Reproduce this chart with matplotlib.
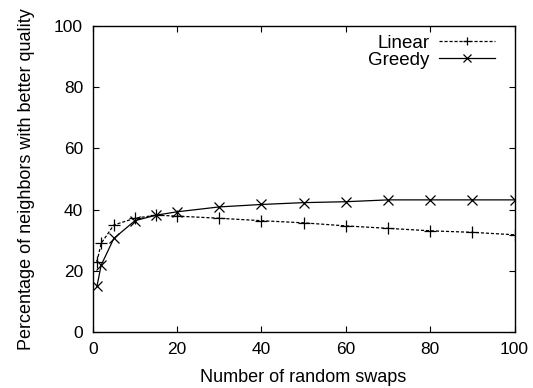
import matplotlib
matplotlib.use('Agg')
from matplotlib import pyplot as plt

matplotlib.rcParams['font.family'] = 'Liberation Sans'

swaps = [1, 2, 5, 10, 15, 20, 30, 40, 50, 60, 70, 80, 90, 100]
linear = [23.0, 29.0, 35.0, 37.2, 38.2, 37.9, 37.2, 36.4, 35.7, 34.7, 33.9, 33.1, 32.6, 31.8]
greedy = [15.0, 21.9, 30.6, 36.4, 38.2, 39.3, 40.9, 41.7, 42.3, 42.6, 43.2, 43.2, 43.2, 43.2]

x_ticks = [0, 20, 40, 60, 80, 100]
y_ticks = [0, 20, 40, 60, 80, 100]

fig = plt.figure(figsize=(5.33, 3.88), dpi=100)
ax = fig.add_axes([0.174, 0.144, 0.7913, 0.789])

ax.plot(swaps, linear, color='black', linestyle=(0, (2.5, 1.5)), linewidth=0.9,
        marker='+', markersize=8, markeredgewidth=0.9, label='Linear')
ax.plot(swaps, greedy, color='black', linestyle='-', linewidth=0.9,
        marker='x', markersize=7, markeredgewidth=0.9, label='Greedy')

ax.set_xlim(0, 100)
ax.set_ylim(0, 100)
ax.set_xticks(x_ticks)
ax.set_yticks(y_ticks)
ax.tick_params(direction='in', top=True, right=True, length=4, width=0.8,
               labelsize=12.5, pad=7)
for sp in ax.spines.values():
    sp.set_linewidth(1.0)

ax.set_xlabel('Number of random swaps', fontsize=13, labelpad=9)
ax.set_ylabel('Percentage of neighbors with better quality', fontsize=13, labelpad=14)

# gnuplot-style key: text then sample, top right inside the plot
leg = ax.legend(frameon=False, markerfirst=False, fontsize=13.5, handlelength=3.0,
                labelspacing=0.0, borderpad=0.2, handletextpad=0.5, markerscale=0.75,
                loc='upper right', bbox_to_anchor=(0.985, 1.015))

plt.savefig('out.png', dpi=100)
